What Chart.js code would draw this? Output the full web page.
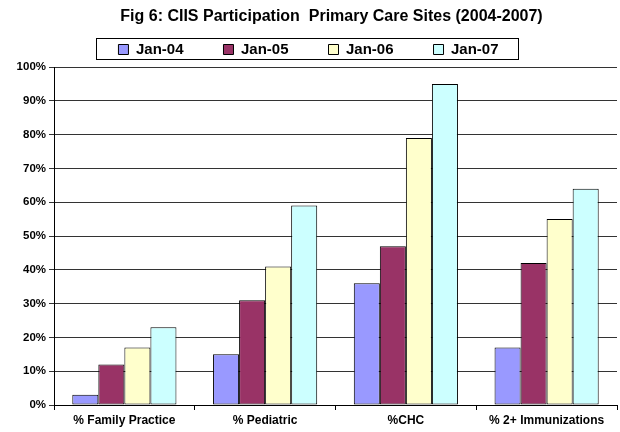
<!DOCTYPE html>
<html lang="en">
<head>
  <meta charset="UTF-8" />
  <title>CIIS Participation</title>
  <script src="https://cdn.jsdelivr.net/npm/chart.js"></script>
  <style>
    body { margin: 0; background: #fff; }
  </style>
</head>
<body>
  <canvas id="ciisChart" width="620" height="432"></canvas>

  <script>
    // data (percent)
    const categories = ['% Family Practice', '% Pediatric', '%CHC', '% 2+ Immunizations'];
    const seriesNames = ['Jan-04', 'Jan-05', 'Jan-06', 'Jan-07'];
    const jan04 = [3, 15, 36, 17];
    const jan05 = [12, 31, 47, 42];
    const jan06 = [17, 41, 79, 55];
    const jan07 = [23, 59, 95, 64];
    const yTicks = [0, 10, 20, 30, 40, 50, 60, 70, 80, 90, 100];
    const titleText = 'Fig 6: CIIS Participation  Primary Care Sites (2004-2007)';

    const colors = ['#9999FF', '#993366', '#FFFFCC', '#CCFFFF'];
    const font = 'Arial, "Liberation Sans", sans-serif';

    // title centred over the plot area, plus a frame round the legend items
    const decorations = {
      id: 'decorations',
      afterDraw(chart) {
        const ctx = chart.ctx;
        const area = chart.chartArea;
        ctx.save();
        ctx.fillStyle = '#000';
        ctx.font = 'bold 16px ' + font;
        ctx.textAlign = 'center';
        ctx.textBaseline = 'middle';
        ctx.fillText(titleText, (area.left + area.right) / 2 - 4, 17);

        const boxes = chart.legend.legendHitBoxes;
        if (boxes && boxes.length) {
          const left = Math.min(...boxes.map(b => b.left)) - 22;
          const right = Math.max(...boxes.map(b => b.left + b.width)) + 20;
          const top = boxes[0].top - 4;
          const bottom = boxes[0].top + boxes[0].height + 2;
          ctx.strokeStyle = '#000';
          ctx.lineWidth = 1;
          ctx.strokeRect(Math.round(left) + 0.5, Math.round(top) + 0.5, Math.round(right - left), Math.round(bottom - top));
        }
        ctx.restore();
      }
    };

    const ctx = document.getElementById('ciisChart').getContext('2d');
    new Chart(ctx, {
      type: 'bar',
      data: {
        labels: categories,
        datasets: [jan04, jan05, jan06, jan07].map((d, i) => ({
          label: seriesNames[i],
          data: d,
          backgroundColor: colors[i],
          borderColor: '#000',
          borderWidth: 1,
          borderSkipped: false,
          categoryPercentage: 0.74,
          barPercentage: 1.0
        }))
      },
      options: {
        responsive: false,
        animation: false,
        // legend label padding also pushes the legend down, so top padding is small
        layout: { padding: { left: 0, right: 3, top: 2, bottom: 0 } },
        plugins: {
          title: { display: false },
          legend: {
            position: 'top',
            labels: {
              color: '#000',
              boxWidth: 10,
              boxHeight: 10,
              padding: 40,
              font: { family: font, size: 15, weight: 'bold' }
            }
          },
          tooltip: { enabled: false }
        },
        scales: {
          x: {
            grid: {
              offset: true,
              drawOnChartArea: false,
              drawTicks: true,
              tickLength: 5,
              color: '#000'
            },
            border: { color: '#000' },
            ticks: {
              color: '#000',
              padding: 3,
              maxRotation: 0,
              font: { family: font, size: 12, weight: 'bold' }
            },
            afterFit(s) { s.height = 27; }
          },
          y: {
            min: 0,
            max: 100,
            afterBuildTicks(s) { s.ticks = yTicks.map(v => ({ value: v })); },
            grid: { color: '#333', tickLength: 5 },
            border: { color: '#000' },
            ticks: {
              color: '#000',
              padding: 3,
              font: { family: font, size: 11.5, weight: 'bold' },
              callback: v => v + '%'
            },
            afterFit(s) { s.width = 54; }
          }
        }
      },
      plugins: [decorations]
    });
  </script>
</body>
</html>
